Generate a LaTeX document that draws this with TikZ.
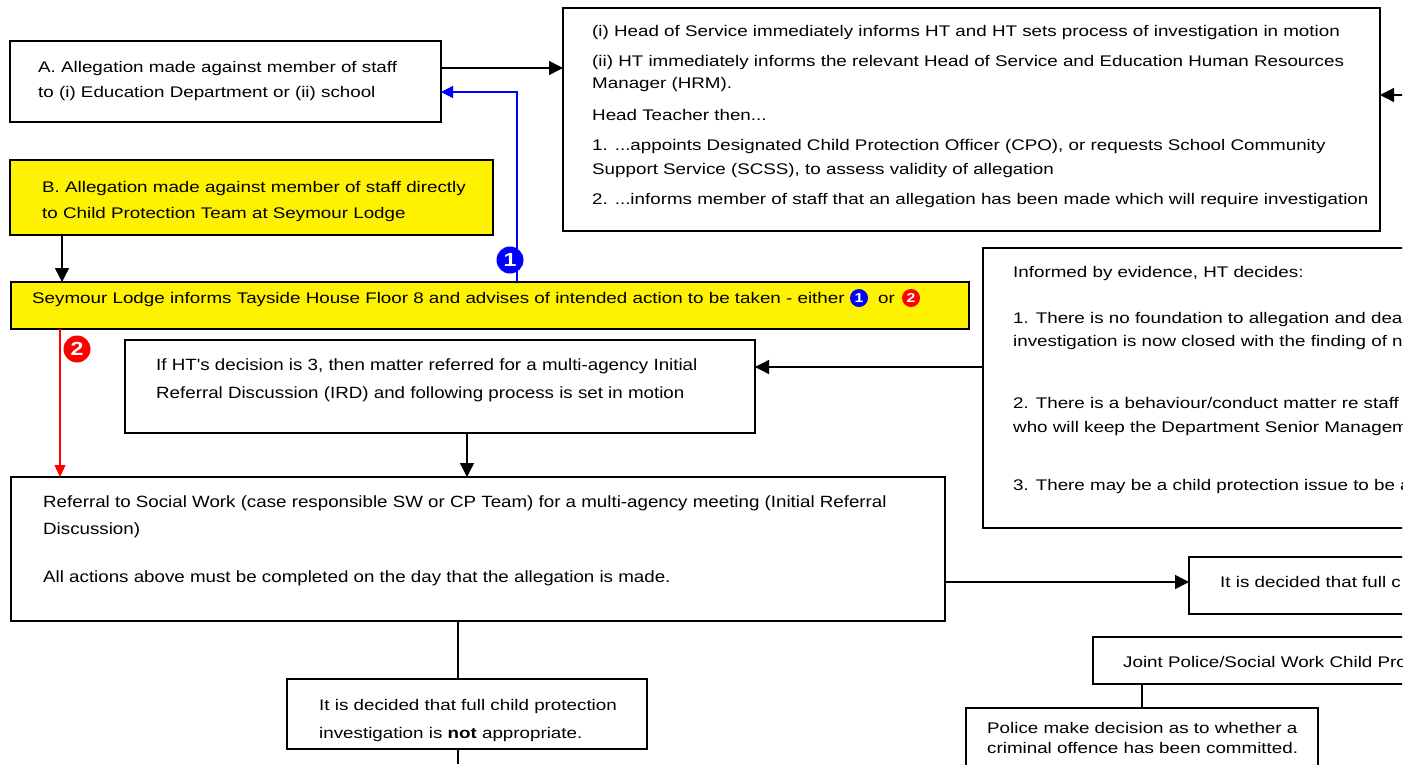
\documentclass[tikz,border=0pt]{standalone}
\usepackage{fontspec}
\setmainfont{Liberation Sans}[FakeStretch=1.22]
\newfontfamily\narrowf{Liberation Sans}[FakeStretch=1.15]
\usetikzlibrary{arrows.meta}
\begin{document}
\begin{tikzpicture}[x=1pt,y=-1pt,
  box/.style={draw, line width=1.6pt, rectangle, inner sep=0pt, outer sep=0pt, anchor=north west},
  yel/.style={box, fill=yellow},
  txt/.style={anchor=base west, inner sep=0pt, font=\fontsize{15.4}{18}\selectfont},
  ntxt/.style={anchor=base west, inner sep=0pt, font=\narrowf\fontsize{16.3}{18}\selectfont},
  conn/.style={line width=1.4pt},
  arr/.style={conn, -{Triangle[length=14pt,width=14pt]}},
  barr/.style={line width=1.3pt, blue, -{Triangle[length=12pt,width=12pt]}},
  rarr/.style={line width=1.3pt, red, -{Triangle[length=12pt,width=11pt]}},
  bignum/.style={circle, inner sep=0pt, minimum size=27pt, text=white, font=\fontsize{19}{19}\selectfont\bfseries},
  smallnum/.style={circle, inner sep=0pt, minimum size=18pt, text=white, font=\fontsize{13}{13}\selectfont\bfseries}]
\useasboundingbox (0,0) rectangle (1416,764);
\begin{scope}
\clip (0,0) rectangle (1402,764);
% boxes
\node[box, minimum width=431pt, minimum height=81pt] (A) at (10,41) {};
\node[box, minimum width=817pt, minimum height=223pt] (TR) at (563,8) {};
\node[yel, minimum width=483pt, minimum height=75pt] (B) at (10,160) {};
\node[yel, minimum width=958pt, minimum height=47pt] (SL) at (11,282) {};
\node[box, minimum width=630pt, minimum height=93pt] (IF) at (125,340) {};
\node[box, minimum width=440pt, minimum height=280pt] (HD) at (983,248) {};
\node[box, minimum width=934pt, minimum height=144pt] (REF) at (11,477) {};
\node[box, minimum width=240pt, minimum height=57pt] (DEC) at (1189,557) {};
\node[box, minimum width=330pt, minimum height=47pt] (JP) at (1093,637) {};
\node[box, minimum width=352pt, minimum height=80pt] (POL) at (966,708) {};
\node[box, minimum width=360pt, minimum height=70pt] (BOT) at (287,679) {};
% texts
\node[txt] (a1) at (38,72) {A. Allegation made against member of staff};
\node[txt] (a2) at (38,97) {to (i) Education Department or (ii) school};
\node[txt] (t1) at (592,36) {(i) Head of Service immediately informs HT and HT sets process of investigation in motion};
\node[txt] (t2) at (592,66) {(ii) HT immediately informs the relevant Head of Service and Education Human Resources};
\node[txt] (t3) at (592,88) {Manager (HRM).};
\node[txt] (t4) at (592,120) {Head Teacher then...};
\node[txt] (t5) at (592,150) {1. ...appoints Designated Child Protection Officer (CPO), or requests School Community};
\node[txt] (t6) at (592,174) {Support Service (SCSS), to assess validity of allegation};
\node[txt] (t7) at (592,204) {2. ...informs member of staff that an allegation has been made which will require investigation};
\node[txt] (b1) at (42,192) {B. Allegation made against member of staff directly};
\node[txt] (b2) at (42,218) {to Child Protection Team at Seymour Lodge};
\node[txt] (s1) at (32,303) {Seymour Lodge informs Tayside House Floor 8 and advises of intended action to be taken - either};
\node[txt] (s2) at (878,303) {or};
\node[ntxt] (f1) at (156,370) {If HT's decision is 3, then matter referred for a multi-agency Initial};
\node[ntxt] (f2) at (156,398) {Referral Discussion (IRD) and following process is set in motion};
\node[txt] (h1) at (1013,277) {Informed by evidence, HT decides:};
\node[txt] (h2) at (1013,323) {1. There is no foundation to allegation and deal};
\node[txt] (h3) at (1013,346) {investigation is now closed with the finding of n};
\node[txt] (h4) at (1013,408) {2. There is a behaviour/conduct matter re staff};
\node[txt] (h5) at (1013,432) {who will keep the Department Senior Managem};
\node[txt] (h6) at (1013,490) {3. There may be a child protection issue to be a};
\node[ntxt] (r1) at (43,507) {Referral to Social Work (case responsible SW or CP Team) for a multi-agency meeting (Initial Referral};
\node[ntxt] (r2) at (43,534) {Discussion)};
\node[ntxt] (r3) at (43,582) {All actions above must be completed on the day that the allegation is made.};
\node[txt] (d1) at (1220,587) {It is decided that full c};
\node[txt] (j1) at (1123,667) {Joint Police/Social Work Child Pro};
\node[txt] (p1) at (987,733) {Police make decision as to whether a};
\node[txt] (p2) at (987,753) {criminal offence has been committed.};
\node[txt] (o1) at (319,710) {It is decided that full child protection};
\node[txt] (o2) at (319,738) {investigation is \textbf{not} appropriate.};
% helper coordinates
\coordinate (h68) at (0,68);
\coordinate (h92) at (0,92);
\coordinate (h367) at (0,367);
\coordinate (h582) at (0,582);
\coordinate (v60) at (60,0);
\coordinate (v62) at (62,0);
\coordinate (v458) at (458,0);
\coordinate (v467) at (467,0);
\coordinate (v517) at (517,0);
\coordinate (v1142) at (1142,0);
\coordinate (xr) at (1416,95);
\coordinate (bend) at (458,764);
% connectors
\draw[arr] (A.east |- h68) -- (TR.west |- h68);
\draw[arr] (xr) -- (xr -| TR.east);
\draw[arr] (v62 |- B.south) -- (v62 |- SL.north);
\draw[barr] (v517 |- SL.north) -- (v517 |- h92) -- (A.east |- h92);
\draw[rarr] (v60 |- SL.south) -- (v60 |- REF.north);
\draw[arr] (HD.west |- h367) -- (IF.east |- h367);
\draw[arr] (v467 |- IF.south) -- (v467 |- REF.north);
\draw[arr] (REF.east |- h582) -- (DEC.west |- h582);
\draw[conn] (v458 |- REF.south) -- (v458 |- BOT.north);
\draw[conn] (v458 |- BOT.south) -- (bend);
\draw[conn] (v1142 |- JP.south) -- (v1142 |- POL.north);
% numbers
\node[bignum, fill=blue] (n1) at (510,260) {1};
\node[bignum, fill=red] (n2) at (77,349) {2};
\node[smallnum, fill=blue] (i1) at (859,298) {1};
\node[smallnum, fill=red] (i2) at (911,298) {2};
\end{scope}
\end{tikzpicture}
\end{document}
